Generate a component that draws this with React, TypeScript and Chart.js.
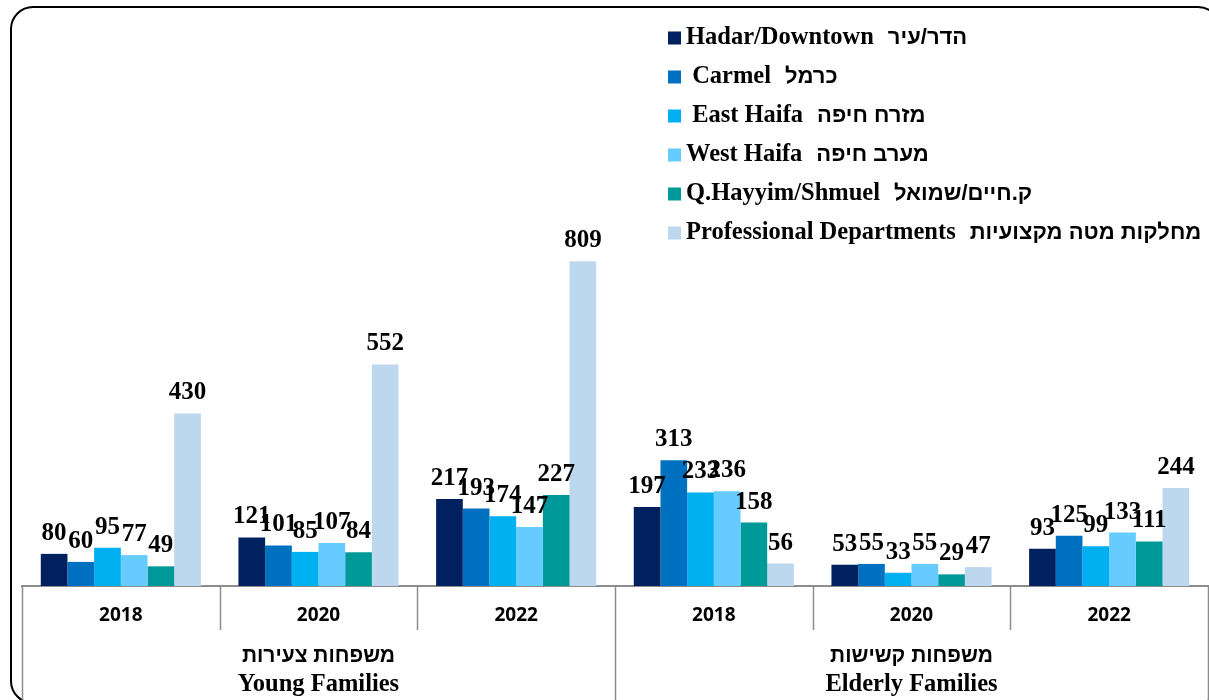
import React, { useEffect, useRef } from "react";
import { Chart, registerables } from "chart.js";

Chart.register(...registerables);

const categories = ["2018", "2020", "2022", "2018", "2020", "2022"];
const groupHe = ["משפחות צעירות", "משפחות קשישות"];
const groupEn = ["Young Families", "Elderly Families"];

const seriesEn = ["Hadar/Downtown", " Carmel", " East Haifa", "West Haifa", "Q.Hayyim/Shmuel", "Professional Departments"];
const seriesHe = ["הדר/עיר", "כרמל", "מזרח חיפה", "מערב חיפה", "ק.חיים/שמואל", "מחלקות מטה מקצועיות"];
const seriesColors = ["#002060", "#0070C0", "#00B0F0", "#66CCFF", "#009999", "#BDD7EE"];

const hadar = [80, 121, 217, 197, 53, 93];
const carmel = [60, 101, 193, 313, 55, 125];
const eastHaifa = [95, 85, 174, 233, 33, 99];
const westHaifa = [77, 107, 147, 236, 55, 133];
const qHayyim = [49, 84, 227, 158, 29, 111];
const professional = [430, 552, 809, 56, 47, 244];

const seriesValues = [hadar, carmel, eastHaifa, westHaifa, qHayyim, professional];

const SERIF = '"Liberation Serif", "Times New Roman", serif';
const SANS = '"Liberation Sans", Arial, sans-serif';

const framePlugin = {
  id: "frame",
  beforeDraw(chart: any) {
    const ctx = chart.ctx;
    ctx.save();
    ctx.fillStyle = "#ffffff";
    ctx.fillRect(0, 0, chart.width, chart.height);
    ctx.restore();
  },
  afterDraw(chart: any) {
    const ctx = chart.ctx;
    ctx.save();
    ctx.strokeStyle = "#000000";
    ctx.lineWidth = 2;
    ctx.beginPath();
    ctx.roundRect(11, 7, 1209, 696, 22);
    ctx.stroke();
    ctx.restore();
  },
};

const axisPlugin = {
  id: "axisDecor",
  afterDraw(chart: any) {
    const ctx = chart.ctx;
    const xs = chart.scales.x;
    const area = chart.chartArea;
    const n = categories.length;
    const step = xs.getPixelForValue(1) - xs.getPixelForValue(0);
    ctx.save();
    ctx.strokeStyle = "#8c8c8c";
    ctx.lineWidth = 1.5;
    for (let i = 0; i <= n; i++) {
      const x = Math.round(xs.getPixelForValue(0) - step / 2 + i * step) + 0.5;
      const full = i % 3 === 0;
      ctx.beginPath();
      ctx.moveTo(x, area.bottom);
      ctx.lineTo(x, full ? chart.height : 630);
      ctx.stroke();
    }
    ctx.fillStyle = "#000000";
    ctx.textAlign = "center";
    ctx.textBaseline = "middle";
    for (let g = 0; g < 2; g++) {
      const cx = (xs.getPixelForValue(g * 3) + xs.getPixelForValue(g * 3 + 2)) / 2;
      ctx.save();
      ctx.direction = "rtl";
      ctx.font = `bold 21px ${SANS}`;
      ctx.fillText(groupHe[g], cx, 656);
      ctx.restore();
      ctx.font = `bold 24.5px ${SERIF}`;
      ctx.fillText(groupEn[g], cx, 685);
    }
    ctx.restore();
  },
};

const labelPlugin = {
  id: "barLabels",
  afterDatasetsDraw(chart: any) {
    const ctx = chart.ctx;
    ctx.save();
    ctx.fillStyle = "#000000";
    ctx.font = `bold 25px ${SERIF}`;
    ctx.textAlign = "center";
    ctx.textBaseline = "alphabetic";
    chart.data.datasets.forEach((ds: any, di: number) => {
      const meta = chart.getDatasetMeta(di);
      meta.data.forEach((bar: any, i: number) => {
        ctx.fillText(String(ds.data[i]), bar.x, bar.y - 14);
      });
    });
    ctx.restore();
  },
};

const legendPlugin = {
  id: "customLegend",
  afterDraw(chart: any) {
    const ctx = chart.ctx;
    ctx.save();
    ctx.textBaseline = "middle";
    chart.data.datasets.forEach((ds: any, i: number) => {
      const cy = 38 + i * 39;
      ctx.fillStyle = ds.backgroundColor;
      ctx.fillRect(668, cy - 6.5, 13, 13);
      ctx.fillStyle = "#000000";
      ctx.textAlign = "left";
      ctx.direction = "ltr";
      ctx.font = `bold 24.5px ${SERIF}`;
      ctx.fillText(seriesEn[i], 686, cy);
      const w = ctx.measureText(seriesEn[i]).width;
      ctx.font = `bold 22px ${SANS}`;
      ctx.direction = "rtl";
      ctx.textAlign = "left";
      ctx.fillText(seriesHe[i], 686 + w + 14, cy);
    });
    ctx.restore();
  },
};

export default function App() {
  const ref = useRef<HTMLCanvasElement | null>(null);
  useEffect(() => {
    if (!ref.current) return;
    const chart = new Chart(ref.current, {
      type: "bar",
      data: {
        labels: categories,
        datasets: seriesValues.map((vals, i) => ({
          label: seriesEn[i],
          data: vals,
          backgroundColor: seriesColors[i],
          borderWidth: 0,
          barPercentage: 1,
          categoryPercentage: 0.81,
        })),
      },
      options: {
        animation: false,
        responsive: false,
        devicePixelRatio: 1,
        layout: { padding: { left: 22, right: 1, top: 24, bottom: 0 } },
        plugins: { legend: { display: false }, tooltip: { enabled: false } },
        scales: {
          x: {
            grid: { display: false, drawTicks: false },
            border: { display: true, color: "#8c8c8c", width: 2 },
            ticks: {
              color: "#000000",
              font: { family: '"Open Sans", sans-serif', weight: "bold", size: 19 },
              padding: 18,
              maxRotation: 0,
            },
            afterFit: (s: any) => {
              s.height = 114;
            },
          },
          y: {
            display: false,
            min: 0,
            max: 1400,
          },
        },
      },
      plugins: [framePlugin, axisPlugin, labelPlugin, legendPlugin],
    });
    return () => chart.destroy();
  }, []);
  return (
    <div style={{ position: "absolute", left: 0, top: 0, width: 1209, height: 700 }}>
      <canvas ref={ref} width={1209} height={700} style={{ width: 1209, height: 700, display: "block" }} />
    </div>
  );
}
